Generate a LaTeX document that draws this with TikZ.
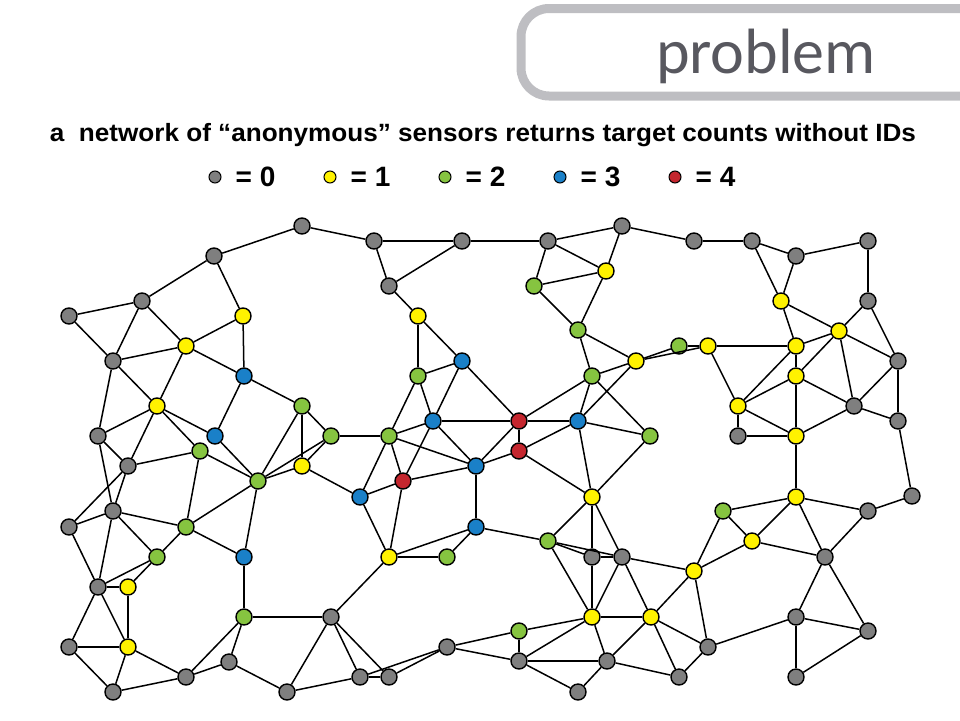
\documentclass[tikz,border=0pt]{standalone}
\usepackage{fontspec}
\setmainfont{Liberation Sans}
\newfontfamily\titlefont{Carlito}
\usepackage{tikz}
\usetikzlibrary{positioning}

\definecolor{sensgray}{HTML}{7F7F7F}
\definecolor{sensyellow}{HTML}{FFF200}
\definecolor{sensgreen}{HTML}{86C440}
\definecolor{sensblue}{HTML}{1A80C8}
\definecolor{sensred}{HTML}{C4262E}
\definecolor{boxgray}{HTML}{BEBEC2}
\definecolor{titlegray}{HTML}{58585F}

\begin{document}
\begin{tikzpicture}[x=1pt,y=-1pt,
  sensor/.style={circle,draw=black,line width=1.4pt,minimum size=16pt,inner sep=0pt},
  c0/.style={sensor,fill=sensgray},
  c1/.style={sensor,fill=sensyellow},
  c2/.style={sensor,fill=sensgreen},
  c3/.style={sensor,fill=sensblue},
  c4/.style={sensor,fill=sensred},
  link/.style={line width=1.5pt},
  legdot/.style={circle,draw=black,line width=1pt,minimum size=12pt,inner sep=0pt},
  legtext/.style={font=\bfseries\fontsize{28}{28}\selectfont,inner sep=0pt}]
\useasboundingbox (0,0) rectangle (960,720);

% Title box
\draw[boxgray, line width=9pt, rounded corners=28pt] (990,8.5) -- (521,8.5) -- (521,96) -- (990,96);
\node[font=\titlefont\fontsize{64}{64}\selectfont, text=titlegray, anchor=base, inner sep=0pt] (title) at (766,73) {problem};

\node[font=\bfseries\fontsize{25}{25}\selectfont, anchor=base, inner sep=0pt] (subtitle) at (483,141)
  {\resizebox{866pt}{\height}{a\ \ network of “anonymous” sensors returns target counts without IDs}};

% Legend
\foreach \i/\cx/\col in {0/215/sensgray,1/330/sensyellow,2/445/sensgreen,3/560/sensblue,4/675/sensred} {
  \node[legdot, fill=\col] (leg\i) at (\cx,177) {};
  \node[legtext, right=14pt of leg\i] (legtxt\i) {= \i};
}

% Sensors, count 0
\foreach \n/\x/\y in {g1/302/226, g2/374/241, g3/462/241, g4/548/241, g5/622/226, g6/694/241,
    g7/752/241, g8/796/256, g9/868/241, g10/214/256, g11/142/301, g12/69/316, g13/113/361,
    g14/389/286, g15/868/301, g16/898/361, g17/854/406, g18/898/421, g19/738/436, g20/98/436,
    g21/128/466, g22/113/511, g23/69/527, g24/98/587, g25/69/647, g26/113/692, g27/186/677,
    g28/229/662, g29/287/692, g30/331/617, g31/360/677, g32/389/677, g33/447/647, g34/519/661,
    g35/578/692, g36/607/661, g37/592/557, g38/622/557, g39/679/677, g40/708/647, g41/796/617,
    g42/796/677, g43/868/631, g44/825/557, g45/868/511, g46/912/496}
  \node[c0] (\n) at (\x,\y) {};

% Sensors, count 1
\foreach \n/\x/\y in {y1/243/316, y2/186/346, y3/157/406, y4/302/466, y5/128/587, y6/128/647,
    y7/418/316, y8/389/557, y9/606/271, y10/636/361, y11/708/346, y12/781/301, y13/839/331,
    y14/796/346, y15/796/376, y16/738/406, y17/796/436, y18/796/497, y19/752/541, y20/694/571,
    y21/651/617, y22/592/617, y23/592/497}
  \node[c1] (\n) at (\x,\y) {};

% Sensors, count 2
\foreach \n/\x/\y in {n1/302/406, n2/331/436, n3/200/451, n4/258/481, n5/186/527, n6/157/557,
    n7/244/617, n8/418/376, n9/389/436, n10/447/557, n11/534/286, n12/578/330, n13/592/376,
    n14/650/436, n15/679/346, n16/548/541, n17/519/631, n18/723/511}
  \node[c2] (\n) at (\x,\y) {};

% Sensors, count 3
\foreach \n/\x/\y in {b1/244/376, b2/215/436, b3/360/497, b4/244/557, b5/462/361, b6/433/421,
    b7/476/466, b8/476/527, b9/578/421}
  \node[c3] (\n) at (\x,\y) {};

% Sensors, count 4
\foreach \n/\x/\y in {r1/519/421, r2/403/481, r3/519/451}
  \node[c4] (\n) at (\x,\y) {};

% Links
\foreach \a/\b in {g1/g2, g10/g1, g10/g11, g10/y1, g11/g12, g12/g13, g11/g13, g11/y2, y2/y1,
    g13/y2, y1/b1, y2/b1, y2/y3, g13/y3, g13/g20, b1/n1, b1/b2, y3/b2, y3/g20, y3/n3, y3/g21,
    g20/g21, g21/n3, b2/n4, n3/n4, n1/n2, n1/y4, n1/n4, n2/n9, n2/y4, n2/n4, n4/y4, y4/b3,
    g20/g22, g21/g22, g21/g23, g22/g23, g22/n5, g22/n6, g22/g24, g23/g24, n3/n5, n4/n5, n4/b4,
    n5/n6, n5/b4, n6/g24, n6/y5, g24/y5, g24/g25, g24/y6, y5/y6, g25/y6, g25/g26, y6/g26,
    y6/g27, g26/g27, b4/n7, n7/g30, n7/g27, n7/g28, g27/g28, g28/g29, g29/g31, g30/g29,
    g30/g31, g30/g32, g30/y8}
  \draw[link] (\a) -- (\b);
\foreach \a/\b in {g2/g3, g3/g4, g2/g14, g3/g14, g4/g5, g4/y9, g4/n11, g5/y9, g5/g6, n11/y9,
    n11/n12, y9/n12, g14/y7, y7/n8, y7/b5, b5/n8, b5/b6, b5/r1, n12/y10, n12/n13, y10/n13,
    y10/b9, y10/n15, y10/y11, n15/y11, n13/r1, n13/b9, n13/n14, n8/b6, n8/n9, b6/r1, r1/b9,
    r1/r3, r1/b7, b9/r3, b9/n14, b9/y23, n14/y23, r3/y23, r3/b7, b6/n9, b6/r2, b6/b7, n9/b3,
    n9/r2, n9/b7, b3/r2, r2/b7, b3/y8, r2/y8, b7/b8, b8/y8, b8/n10, y8/n10, b8/n16, n16/y23,
    n16/g37, n16/g38, n16/y22, y23/g37, y23/g38, g37/g38, g37/y22, g38/y22, g38/y21, g38/y20}
  \draw[link] (\a) -- (\b);
\foreach \a/\b in {y22/y21, y22/n17, y22/g34, y22/g36, n17/g34, n17/g33, g33/g34, g33/g31,
    g33/g32, g31/g32, g34/g36, g34/g35, g36/g35, g36/y21, g36/g39, y21/g39, y21/g40, y21/y20,
    y20/g40, y20/n18, y20/y19, n18/y19, n18/y18, y19/y18, y19/g44, y18/g44, y18/g45, y18/y17,
    g45/g46, g45/g44, g44/g41, g44/g43, g41/g43, g41/g42, g42/g43, g41/g40, g40/g39, g46/g18,
    g6/g7, g7/g8, g7/y12, g8/y12, g8/g9, g9/g15, y12/y14, y12/y13, g15/y13, g15/g16, y13/y14,
    y13/y15, y13/g16, y13/g17, y11/y14, y11/y16, y14/y15, y14/y16, y15/y16, y15/g17, y15/y17,
    g16/g17, g16/g18, g17/g18, y16/g19, y16/y17, g19/y17, y17/g17, y17/y18}
  \draw[link] (\a) -- (\b);
\end{tikzpicture}
\end{document}
